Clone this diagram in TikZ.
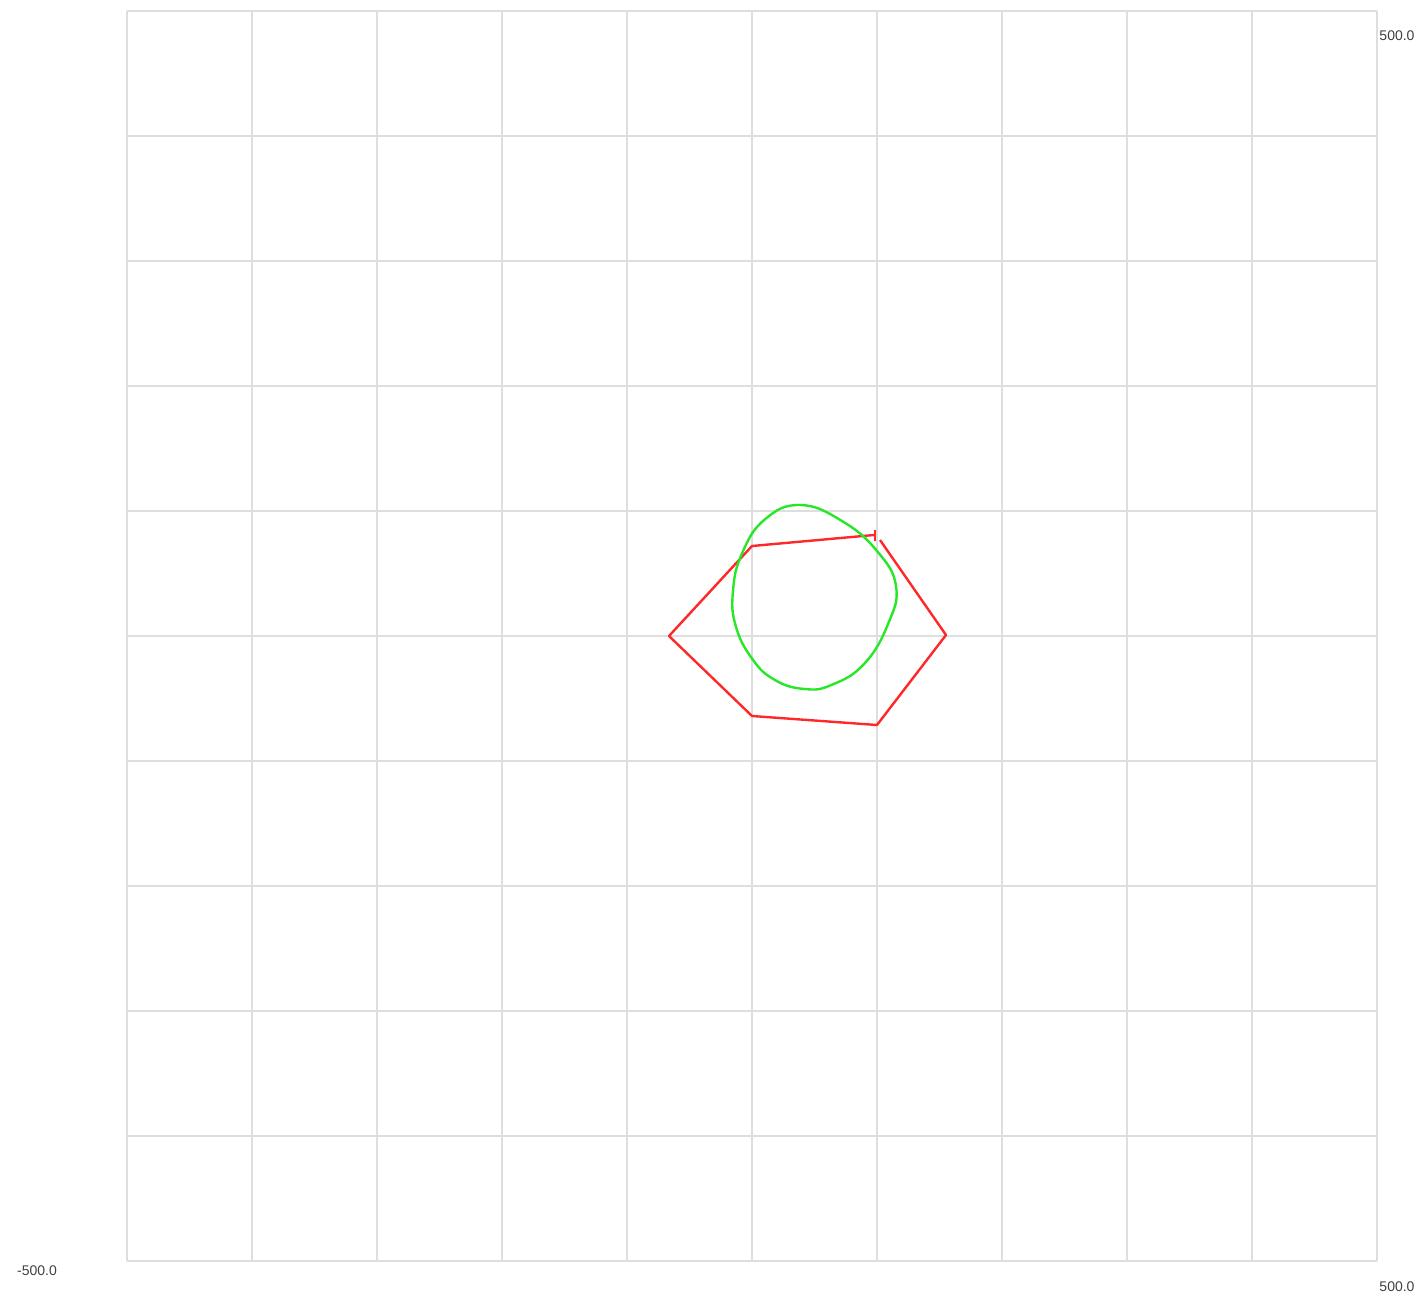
\documentclass[tikz,border=0pt]{standalone}
\usepackage{fontspec}
\setmainfont{Liberation Sans}
\definecolor{gridgray}{RGB}{222,222,222}
\definecolor{polyred}{RGB}{255,40,40}
\definecolor{blobgreen}{RGB}{40,230,40}
\begin{document}
\begin{tikzpicture}[x=0.625pt, y=0.625pt, font=\fontsize{7}{8}\selectfont]
  \useasboundingbox (-601.6, -528) rectangle (536.8, 508.8);

  % Grid
  \foreach \v in {-500,-400,...,500} {
    \draw[gridgray, line width=0.9pt] (\v, -500) -- (\v, 500);
    \draw[gridgray, line width=0.9pt] (-500, \v) -- (500, \v);
  }

  % Range labels
  \node[text=black!75] (ymax) at (516, 480) {500.0};
  \node[text=black!75] (xmin) at (-572, -508) {-500.0};
  \node[text=black!75] (xmax) at (516, -520.8) {500.0};

  % Polygon
  \draw[polyred, line width=1.2pt, line join=round]
    (102.4, 76.8) -- (155.2, 0.8) -- (100, -71.2) -- (0, -64)
    -- (-66.4, 0) -- (0, 72) -- (97.6, 80.8);
  \draw[polyred, line width=0.8pt] (98.4, 76) -- (98.4, 84.8);

  % Closed curve
  \draw[blobgreen, line width=1.2pt] plot[smooth cycle, tension=0.75] coordinates {
    (38.4, 104.8) (72, 92) (100, 68) (115.2, 40) (109, 10)
    (90, -22) (64, -39) (42, -42.4) (18, -35) (0, -18)
    (-13, 8) (-15.2, 36) (-8, 66) (10, 93)};
\end{tikzpicture}
\end{document}
